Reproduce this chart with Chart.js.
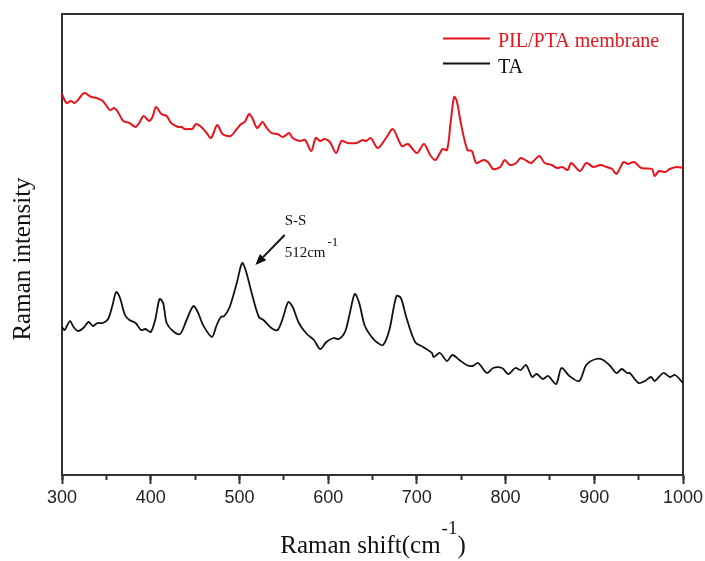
<!DOCTYPE html>
<html><head><meta charset="utf-8">
<script src="https://cdn.jsdelivr.net/npm/chart.js@4.4.1/dist/chart.umd.min.js"></script>
<style>html,body{margin:0;padding:0;background:#fff;}canvas{display:block;}</style>
</head><body>
<canvas id="c" width="705" height="561"></canvas>
<script>
// ---- data (Raman shift in cm-1, intensity in arbitrary units) ----
const seriesLabels = ['PIL/PTA membrane', 'TA'];
const membraneShift = [300,305,310,314,318,325,333,339,346,354,359,363,369,376,383,387,392,398,402,406,412,418,423,431,435,438,444,447,451,457,463,468,475,481,490,497,502,506,511,515,520,526,530,536,543,549,556,560,568,574,581,586,591,596,602,609,615,622,632,639,643,648,656,666,673,683,690,700,708,715,721,729,734,738,742,745,750,757,762,767,775,780,786,794,799,805,812,817,824,829,838,844,852,858,864,870,874,884,891,899,907,914,920,925,933,938,945,953,965,968,973,980,985,993,1000];
const membraneIntensity = [381,372,374,372,375,382,378,377,374,365,367,363,354,352,348,352,359,354,358,368,361,359,352,348,348,346,346,346,351,348,342,337,350,341,339,346,351,353,361,356,347,353,348,342,341,338,342,337,334,335,324,337,334,336,333,322,334,332,332,335,334,337,327,338,346,329,331,322,331,320,315,326,325,352,378,374,350,325,324,312,315,313,306,308,315,310,312,317,314,312,319,312,310,307,308,305,312,304,312,308,310,308,306,301,313,311,313,307,306,299,304,303,306,308,307];
const taShift = [300,303,309,313,318,324,330,335,340,346,352,357,361,365,371,376,383,389,394,400,405,410,414,418,425,433,440,448,453,459,469,474,479,483,489,497,503,507,515,522,527,536,543,549,555,560,567,576,584,591,598,606,612,619,624,630,635,641,649,656,662,669,677,682,688,698,707,717,719,726,734,740,748,756,763,769,779,786,796,803,811,817,823,830,835,842,848,857,863,872,883,891,902,910,918,925,931,937,940,950,957,964,968,978,985,991,1000];
const taIntensity = [148,145,154,148,144,147,153,149,152,152,156,170,183,178,160,155,152,145,146,143,155,176,172,152,144,141,154,169,163,150,138,149,158,159,168,192,212,205,178,158,155,147,145,157,173,168,152,141,135,126,133,137,136,143,160,181,172,150,138,132,130,145,179,177,158,133,128,122,118,122,114,120,115,110,109,112,102,107,107,101,107,105,110,98,101,96,99,91,107,99,94,110,116,115,109,102,106,102,102,92,94,98,94,102,98,100,92];
const xRange = [300, 1000];
const yRange = [0, 461];
const xMajorStep = 100;
const xMinorStep = 50;
const xTitle = ['Raman shift(cm', '-1', ')'];
const yTitle = 'Raman intensity';
const peakLabel = ['S-S', '512cm', '-1'];
// annotation anchor in data units: [shift, intensity]
const peakTextAt = [551, 250];
const peakUnitAt = [551, 218];
const arrowFrom = [551, 240];
const arrowTo = [518, 210];

const RED = '#e8141c', BLACK = '#111111', AXIS = '#333333';
const SERIF = '"Liberation Serif", "Times New Roman", serif';

const decor = {
  id: 'decor',
  afterDraw(chart) {
    const {ctx, chartArea: a, scales: {x, y}} = chart;
    ctx.save();
    // x title with superscript
    ctx.fillStyle = '#111';
    ctx.textBaseline = 'alphabetic';
    ctx.font = '25px ' + SERIF;
    const w1 = ctx.measureText(xTitle[0]).width;
    const w3 = ctx.measureText(xTitle[2]).width;
    ctx.font = '19px ' + SERIF;
    const w2 = ctx.measureText(xTitle[1]).width;
    const cx = (a.left + a.right) / 2;
    let sx = cx - (w1 + w2 + w3) / 2;
    const base = 553;
    ctx.font = '25px ' + SERIF; ctx.textAlign = 'left';
    ctx.fillText(xTitle[0], sx, base);
    ctx.font = '19px ' + SERIF;
    ctx.fillText(xTitle[1], sx + w1 + 1, base - 19);
    ctx.font = '25px ' + SERIF;
    ctx.fillText(xTitle[2], sx + w1 + w2 + 1, base);
    // y title
    ctx.save();
    ctx.translate(23, 259);
    ctx.rotate(-Math.PI / 2);
    ctx.textAlign = 'center'; ctx.textBaseline = 'middle';
    ctx.font = '25px ' + SERIF;
    ctx.fillText(yTitle, 0, 0);
    ctx.restore();
    // legend
    const ds = chart.data.datasets;
    const legY = [38.5, 63.5];
    const baseY = [46.5, 72.5];
    ds.forEach((d, i) => {
      ctx.strokeStyle = d.borderColor; ctx.lineWidth = 2;
      ctx.beginPath(); ctx.moveTo(443, legY[i]); ctx.lineTo(490, legY[i]); ctx.stroke();
      ctx.fillStyle = d.borderColor; ctx.font = '20px ' + SERIF; ctx.textAlign = 'left';
      ctx.textBaseline = 'alphabetic';
      ctx.fillText(d.label, 498, baseY[i]);
    });
    // annotation
    ctx.fillStyle = '#111'; ctx.font = '15px ' + SERIF; ctx.textAlign = 'left'; ctx.textBaseline = 'alphabetic';
    ctx.fillText(peakLabel[0], x.getPixelForValue(peakTextAt[0]), y.getPixelForValue(peakTextAt[1]));
    const ux = x.getPixelForValue(peakUnitAt[0]), uy = y.getPixelForValue(peakUnitAt[1]);
    ctx.fillText(peakLabel[1], ux, uy);
    const uw = ctx.measureText(peakLabel[1]).width;
    ctx.font = '13px ' + SERIF;
    ctx.fillText(peakLabel[2], ux + uw + 2, uy - 11);
    // arrow
    const x1 = x.getPixelForValue(arrowFrom[0]), y1 = y.getPixelForValue(arrowFrom[1]);
    const x2 = x.getPixelForValue(arrowTo[0]), y2 = y.getPixelForValue(arrowTo[1]);
    const ang = Math.atan2(y2 - y1, x2 - x1);
    const hl = 11, hw = 4.5;
    const bx = x2 - hl * Math.cos(ang), by = y2 - hl * Math.sin(ang);
    ctx.strokeStyle = '#111'; ctx.lineWidth = 2;
    ctx.beginPath(); ctx.moveTo(x1, y1); ctx.lineTo(bx, by); ctx.stroke();
    ctx.fillStyle = '#111';
    ctx.beginPath();
    ctx.moveTo(x2, y2);
    ctx.lineTo(bx + hw * Math.sin(ang), by - hw * Math.cos(ang));
    ctx.lineTo(bx - hw * Math.sin(ang), by + hw * Math.cos(ang));
    ctx.closePath(); ctx.fill();
    ctx.restore();
  }
};

const frameAxis = (pos) => ({
  type: 'linear', position: pos,
  min: (pos === 'top') ? xRange[0] : yRange[0],
  max: (pos === 'top') ? xRange[1] : yRange[1],
  ticks: {display: false},
  grid: {display: true, drawOnChartArea: false, drawTicks: false},
  border: {display: true, width: 2, color: AXIS},
  afterFit(s) { if (pos === 'top') s.height = 0; else s.width = 0; }
});

new Chart(document.getElementById('c'), {
  type: 'line',
  data: {
    datasets: [
      {label: seriesLabels[0], data: membraneShift.map((v, i) => ({x: v, y: membraneIntensity[i]})),
       borderColor: RED, borderWidth: 2, pointRadius: 0, tension: 0.3, fill: false, xAxisID: 'x', yAxisID: 'y'},
      {label: seriesLabels[1], data: taShift.map((v, i) => ({x: v, y: taIntensity[i]})),
       borderColor: BLACK, borderWidth: 1.8, pointRadius: 0, tension: 0.3, fill: false, xAxisID: 'x', yAxisID: 'y'}
    ]
  },
  options: {
    responsive: false, animation: false, devicePixelRatio: 1,
    layout: {padding: {left: 0, right: 22, top: 14, bottom: 0}},
    plugins: {legend: {display: false}, tooltip: {enabled: false}},
    scales: {
      x: {type: 'linear', position: 'bottom', min: xRange[0], max: xRange[1], weight: 1,
          ticks: {stepSize: xMajorStep, autoSkip: false, maxRotation: 0, padding: 3, color: '#222',
                  callback: (v) => String(v),
                  font: {family: '"Liberation Sans", Arial, sans-serif', size: 18}},
          grid: {drawOnChartArea: false, drawTicks: true, tickLength: 9, tickWidth: 2, tickColor: AXIS},
          border: {display: true, width: 2, color: AXIS},
          afterFit(s) { s.height = 86; s.paddingRight = 0; s.paddingLeft = 0; }},
      xMinor: {type: 'linear', position: 'bottom', min: xRange[0], max: xRange[1], weight: 0,
          ticks: {stepSize: xMinorStep, display: false, autoSkip: false},
          grid: {drawOnChartArea: false, drawTicks: true, tickLength: 5, tickWidth: 2, tickColor: AXIS},
          border: {display: false},
          afterFit(s) { s.height = 0; s.paddingRight = 0; s.paddingLeft = 0; }},
      xTop: frameAxis('top'),
      y: {type: 'linear', position: 'left', min: yRange[0], max: yRange[1],
          ticks: {display: false},
          grid: {display: true, drawOnChartArea: false, drawTicks: false},
          border: {display: true, width: 2, color: AXIS},
          afterFit(s) { s.width = 62; }},
      yRight: frameAxis('right')
    }
  },
  plugins: [decor]
});
</script>
</body></html>
